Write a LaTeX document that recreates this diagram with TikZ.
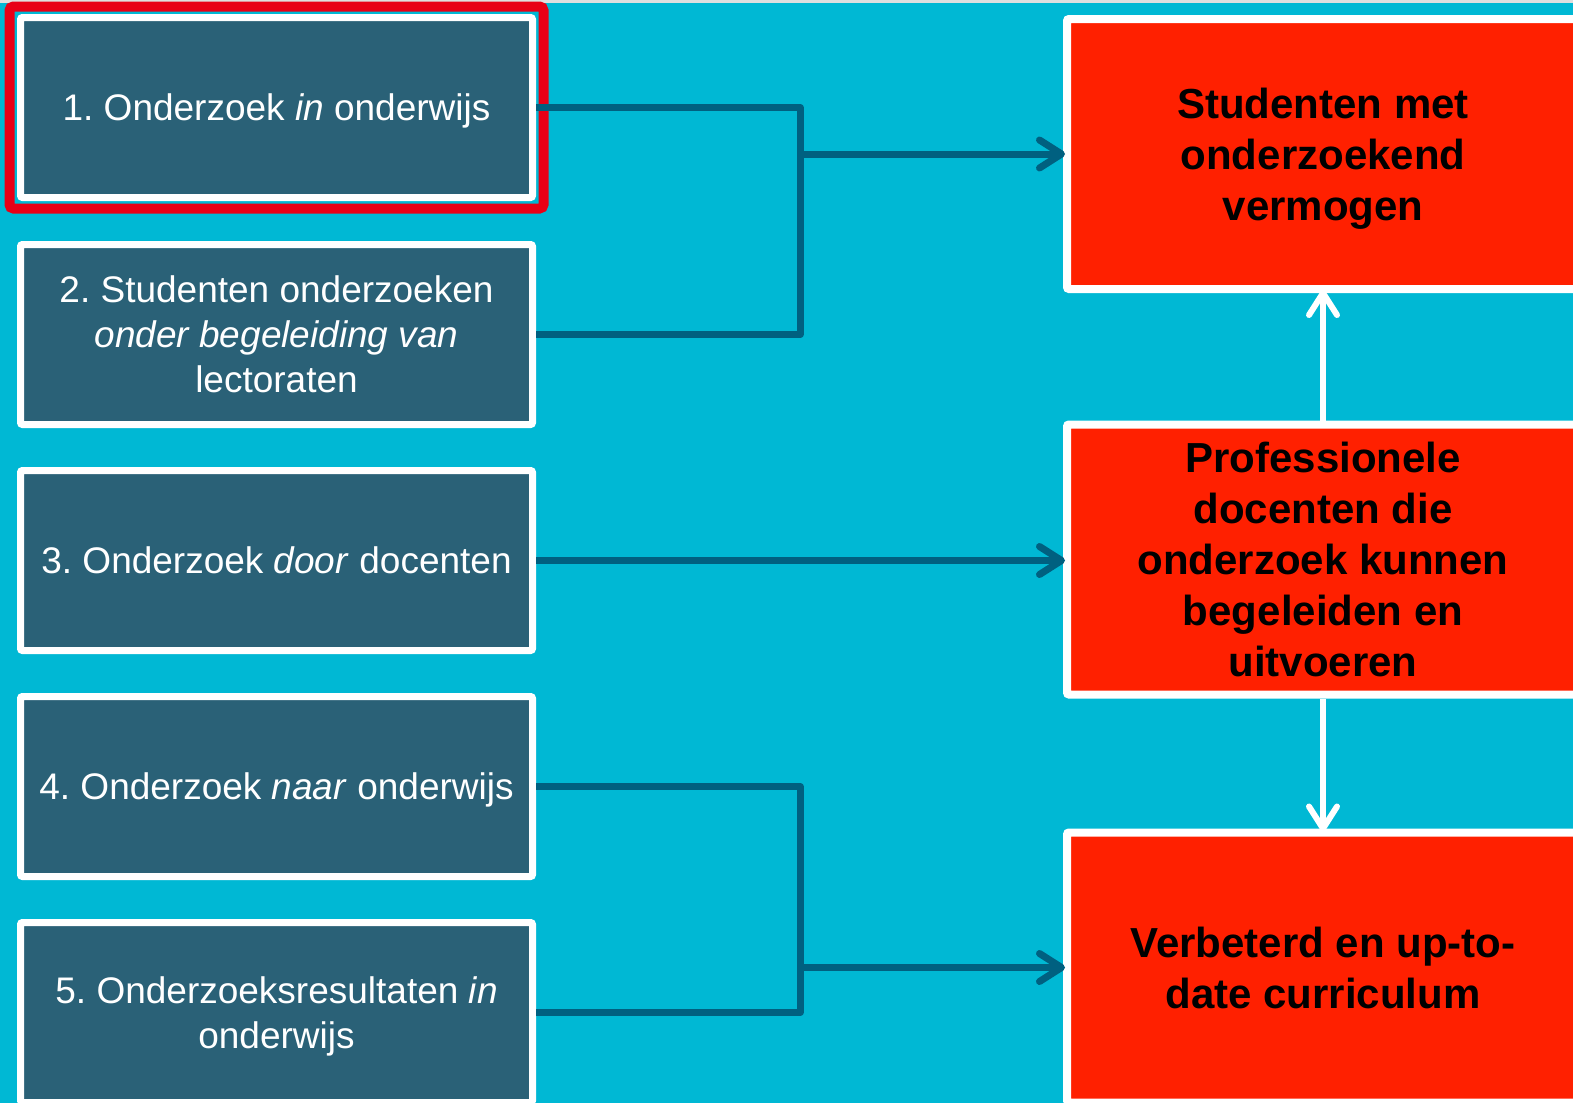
\documentclass[tikz,border=0pt]{standalone}
\usepackage{fontspec}
\setmainfont{Liberation Sans}
\usetikzlibrary{arrows.meta,shadows,fit}
\frenchspacing

\definecolor{bgcyan}{RGB}{0,184,212}
\definecolor{boxteal}{RGB}{42,97,119}
\definecolor{linkteal}{RGB}{0,96,128}
\definecolor{goalred}{RGB}{255,32,0}
\definecolor{framered}{RGB}{232,0,22}

\begin{document}
\begin{tikzpicture}[
    % GLOBAL CFG (pixel grid, y downwards)
    x=1pt, y=-1pt,
    % Styles
    src/.style={% For the five research forms on the left
        rectangle,
        rounded corners=2pt,
        fill=boxteal,
        draw=white,
        line width=7pt,
        minimum width=512pt,
        minimum height=180pt,
        inner sep=0pt,
        align=center,
        text=white,
        text depth=0pt,
        font=\fontsize{37}{45}\selectfont,
        drop shadow={opacity=0.3, shadow xshift=2pt, shadow yshift=-2pt},
        },
    goal/.style={% For the results on the right
        rectangle,
        rounded corners=2pt,
        fill=goalred,
        draw=white,
        line width=8pt,
        minimum width=512pt,
        minimum height=270pt,
        inner sep=0pt,
        align=center,
        text=black,
        text depth=0pt,
        font=\bfseries\fontsize{42}{51}\selectfont,
        drop shadow={opacity=0.3, shadow xshift=2pt, shadow yshift=-2pt},
        },
    hilite/.style={% Red frame round the first box
        rectangle,
        rounded corners=4pt,
        draw=framered,
        line width=10pt,
        },
    link/.style={% Dark connectors
        draw=linkteal,
        line width=7pt,
        line join=round,
        },
    linktip/.style={% Dark arrows
        link,
        -{Straight Barb[round, length=22pt, width=28pt]},
        shorten >=-2pt,
        },
    flow/.style={% White arrows between the results
        draw=white,
        line width=6pt,
        -{Straight Barb[round, length=22pt, width=28pt]},
        shorten >=-3pt,
        },
    ]

% Background
    \useasboundingbox (0,0) rectangle (1573,1103);
    \fill [bgcyan] (0,0) rectangle (1573,1103);
    \fill [gray!25] (0,0) rectangle (1573,3);

% Left boxes named src#
    \node [src] (src1) at (276.5,107.5) {1. Onderzoek \textit{in} onderwijs};
    \node [src] (src2) at (276.5,334.5) {2. Studenten onderzoeken\\\textit{onder begeleiding van}\\lectoraten};
    \node [src] (src3) at (276.5,560.5) {3. Onderzoek \textit{door} docenten};
    \node [src] (src4) at (276.5,786.5) {4. Onderzoek \textit{naar} onderwijs};
    \node [src] (src5) at (276.5,1012.5) {5. Onderzoeksresultaten \textit{in}\\onderwijs};
    \node [hilite, fit=(src1), inner sep=7.5pt] (frame1) {};

% Right boxes named goal#
    \node [goal] (goal1) at (1323,154) {Studenten met\\onderzoekend\\vermogen};
    \node [goal] (goal2) at (1323,559.5) {Professionele\\docenten die\\onderzoek kunnen\\begeleiden en\\uitvoeren};
    \node [goal] (goal3) at (1323,967.5) {Verbeterd en up-to-\\date curriculum};

% Junctions
    \coordinate (j1) at (800,154);
    \coordinate (j2) at (800,967.5);

% Connecting all
    \draw [link] (src1.east) -| (j1) |- (src2.east);
    \draw [linktip] (j1) -- (goal1.west);
    \draw [linktip] (src3.east) -- (src3.east -| goal2.west);
    \draw [link] (src4.east) -| (j2) |- (src5.east);
    \draw [linktip] (j2) -- (goal3.west);

    \draw [flow] (goal2.north) -- (goal1.south);
    \draw [flow] (goal2.south) -- (goal3.north);
\end{tikzpicture}
\end{document}
